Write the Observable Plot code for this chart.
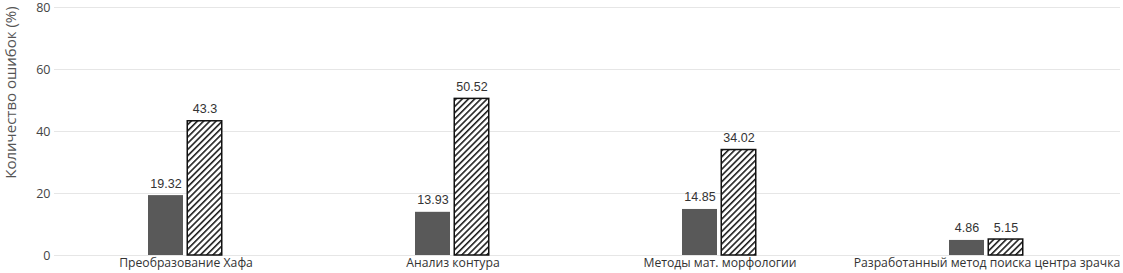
<!DOCTYPE html>
<html><head><meta charset="utf-8">
<script src="https://cdn.jsdelivr.net/npm/d3@7"></script>
<script src="https://cdn.jsdelivr.net/npm/@observablehq/plot@0.6"></script>
<style>
body{margin:0;background:#fff;}
#chart{position:relative;width:1123px;height:273px;}
</style>
</head><body><div id="chart"></div>
<script>
const categories = ["Преобразование Хафа", "Анализ контура", "Методы мат. морфологии", "Разработанный метод поиска центра зрачка"];
const seriesA = [19.32, 13.93, 14.85, 4.86];
const seriesB = [43.3, 50.52, 34.02, 5.15];
const yTicks = [0, 20, 40, 60, 80];
const yLabel = "Количество ошибок (%)";

const dataA = categories.map((c, i) => ({category: c, value: seriesA[i]}));
const dataB = categories.map((c, i) => ({category: c, value: seriesB[i]}));

const W = 1123, H = 273;
const mL = 52, mR = 3, bw = (W - mL - mR) / categories.length, half = bw / 2;

const plot = Plot.plot({
  width: W, height: H,
  marginLeft: mL, marginRight: mR, marginTop: 7, marginBottom: 18,
  style: {fontFamily: "'Open Sans', sans-serif", background: "#fff"},
  x: {domain: categories, padding: 0, label: null, tickSize: 0, tickPadding: 3},
  y: {domain: [0, 80], ticks: yTicks, label: null, tickSize: 0, tickPadding: 4},
  marks: [
    Plot.ruleY(yTicks, {stroke: "#e6e6e6", strokeWidth: 1, insetLeft: 2}),
    Plot.barY(dataA, {x: "category", y: "value", fill: "#595959",
      insetLeft: half - 37.5, insetRight: half + 2.5}),
    Plot.barY(dataB, {x: "category", y: "value", fill: "url(#hatch)", stroke: "#111", strokeWidth: 1.5,
      insetLeft: half + 1.75, insetRight: half - 36.25}),
    Plot.text(dataA, {x: "category", y: "value", text: d => String(d.value), dx: -20, dy: -12,
      fill: "#333", fontSize: 12.5, fontFamily: "'Liberation Sans', Arial, sans-serif"}),
    Plot.text(dataB, {x: "category", y: "value", text: d => String(d.value), dx: 19, dy: -12,
      fill: "#333", fontSize: 12.5, fontFamily: "'Liberation Sans', Arial, sans-serif"}),
    Plot.axisX({tickSize: 0, tickPadding: 3, fontSize: 12.2, fill: "#333", label: null}),
    Plot.axisY({ticks: yTicks, tickSize: 0, tickPadding: 2, fontSize: 12.5, fill: "#444", label: null}),
    Plot.text([yLabel], {frameAnchor: "left", textAnchor: "middle", rotate: -90, dx: -41, dy: -39,
      fontSize: 15, fill: "#555", fontFamily: "'Open Sans', sans-serif"})
  ]
});

// hatch pattern definition
const ns = "http://www.w3.org/2000/svg";
const defs = document.createElementNS(ns, "defs");
defs.innerHTML = `<pattern id="hatch" patternUnits="userSpaceOnUse" width="4.4" height="4.4" patternTransform="rotate(45)">
  <rect width="4.4" height="4.4" fill="#fff"/>
  <line x1="0.8" y1="0" x2="0.8" y2="4.4" stroke="#111" stroke-width="1.5"/>
</pattern>`;
plot.insertBefore(defs, plot.firstChild);
document.getElementById("chart").appendChild(plot);
</script>
</body></html>
